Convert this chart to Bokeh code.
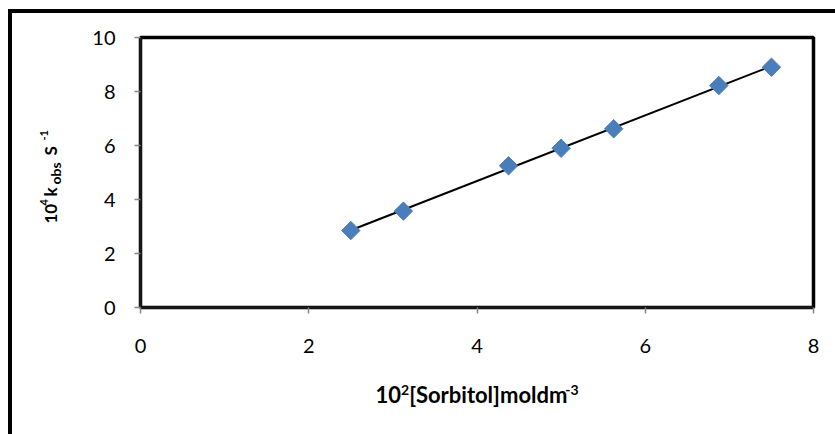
import numpy as np
from bokeh.plotting import figure
from bokeh.models import FixedTicker, ColumnDataSource, Range1d
from bokeh.layouts import row, column
from bokeh.core.properties import value
from bokeh.embed import file_html
from bokeh.resources import INLINE

# ---- data ----
sorbitol = [2.5, 3.125, 4.375, 5.0, 5.625, 6.875, 7.5]      # 10^2 [Sorbitol] mol dm^-3
kobs = [2.85, 3.57, 5.25, 5.9, 6.62, 8.22, 8.9]             # 10^4 k_obs s^-1
x_ticks = [0, 2, 4, 6, 8]
y_ticks = [0, 2, 4, 6, 8, 10]
x_title_parts = ["10", "2", "[Sorbitol]moldm", "-3"]
y_title_parts = ["10", "4", " k", "obs", " S", "-1"]

X_MIN, X_MAX = 0, 8
Y_MIN, Y_MAX = 0, 10

# ---- page geometry (window pixels) ----
OX, OY = 12, 13          # inner corner of the outer border
TOTAL_W, TOTAL_H = 835 - OX, 434 - OY
FX0, FX1 = 140, 813      # plot frame left / right
FY1, FY0 = 37, 307       # plot frame top / bottom
LW = 75                  # width of the y-title strip
BOT = 370                # window y where the x-title strip starts
HP = BOT - OY            # height of the main plot canvas
PW = TOTAL_W - LW        # width of the main plot canvas
MID = 0.387              # em offset of the "middle" text baseline above the alphabetic one

FONT = "Lato"

# ---- main plot ----
p = figure(width=PW, height=HP, x_range=(X_MIN, X_MAX), y_range=(Y_MIN, Y_MAX),
           output_backend="svg", toolbar_location=None,
           min_border_left=FX0 - OX - LW, min_border_right=PW - (FX1 - OX - LW),
           min_border_top=FY1 - OY, min_border_bottom=BOT - FY0,
           frame_width=FX1 - FX0, frame_height=FY0 - FY1)
p.xgrid.visible = False
p.ygrid.visible = False
p.outline_line_color = "black"
p.outline_line_width = 3.5
p.background_fill_color = "white"
p.border_fill_color = "white"

for ax in (p.xaxis[0], p.yaxis[0]):
    ax.axis_line_color = "#1a1a1a"
    ax.axis_line_width = 2.5
    ax.major_tick_line_color = "#868686"
    ax.major_tick_line_width = 1.5
    ax.major_tick_out = 6
    ax.major_tick_in = 0
    ax.minor_tick_line_color = None
    ax.major_label_text_font = FONT
    ax.major_label_text_font_size = "20px"
    ax.major_label_text_color = "black"

p.xaxis[0].ticker = FixedTicker(ticks=x_ticks)
p.yaxis[0].ticker = FixedTicker(ticks=y_ticks)
p.xaxis[0].major_label_standoff = 25
p.yaxis[0].major_label_standoff = 19

# trend line (least squares through the points)
m, c = np.polyfit(sorbitol, kobs, 1)
xl = [min(sorbitol), max(sorbitol)]
p.line(xl, [m * v + c for v in xl], line_color="black", line_width=2)

src = ColumnDataSource(dict(x=sorbitol, y=kobs))
p.scatter("x", "y", source=src, marker="square", size=13, angle=np.pi / 4,
          fill_color="#4A7EBB", line_color="#4A7EBB", line_width=1)


def strip(w, h, **kw):
    f = figure(width=w, height=h, output_backend="svg", toolbar_location=None,
               x_axis_type=None, y_axis_type=None, title_location=None, **kw)
    f.grid.visible = False
    f.outline_line_color = None
    f.background_fill_color = "white"
    f.border_fill_color = "white"
    return f


# ---- y-axis title strip (rotated text); its frame matches the plot frame vertically ----
FH = FY0 - FY1
yt = strip(LW, HP, x_range=Range1d(0, LW), y_range=Range1d(0, FH),
           min_border_left=0, min_border_right=0,
           min_border_top=FY1 - OY, min_border_bottom=BOT - FY0)
MAIN_Y, SUP_Y, SUB_Y = 17, 11, 14
y_starts = [223, 205, 196, 184, 155, 140]      # window y where each piece starts
y_base = [57, 48, 57, 60, 57, 48]              # window x of each baseline
y_size = [MAIN_Y, SUP_Y, MAIN_Y, SUB_Y, MAIN_Y, SUP_Y]
ysrc = ColumnDataSource(dict(x=[b - OX - MID * s for b, s in zip(y_base, y_size)],
                             y=[FY0 - v for v in y_starts], t=y_title_parts,
                             s=[f"{v}px" for v in y_size]))
yt.text("x", "y", text="t", source=ysrc, angle=np.pi / 2, text_font=value(FONT),
        text_font_style="bold", text_font_size="s", text_color="black",
        text_align="left", text_baseline="middle")

# ---- x-axis title strip ----
XH = TOTAL_H - HP
xt = strip(TOTAL_W, XH, x_range=Range1d(0, TOTAL_W), y_range=Range1d(0, XH),
           min_border=0)
MAIN_X, SUP_X = 22, 14
em = [1.16, 0.58, 7.1, 0.94]           # estimated advance widths (em)
sizes = [MAIN_X, SUP_X, MAIN_X, SUP_X]
x_base = [403, 395, 403, 395]          # window y of each baseline
widths = [e * s for e, s in zip(em, sizes)]
cx = (FX0 + FX1) / 2
x0 = cx - sum(widths) / 2
xs = list(np.cumsum([x0] + widths[:-1]))
xsrc = ColumnDataSource(dict(x=[v - OX for v in xs],
                             y=[BOT + XH - (b - MID * s) for b, s in zip(x_base, sizes)],
                             t=x_title_parts, s=[f"{v}px" for v in sizes]))
xt.text("x", "y", text="t", source=xsrc, text_font=value(FONT),
        text_font_style="bold", text_font_size="s", text_color="black",
        text_align="left", text_baseline="middle")

layout = column(row(yt, p), xt)
layout.styles = {"margin-left": "8px", "margin-top": "9px",
                 "border-left": "4px solid black", "border-top": "4px solid black"}

open("out.html", "w").write(file_html(layout, INLINE))
